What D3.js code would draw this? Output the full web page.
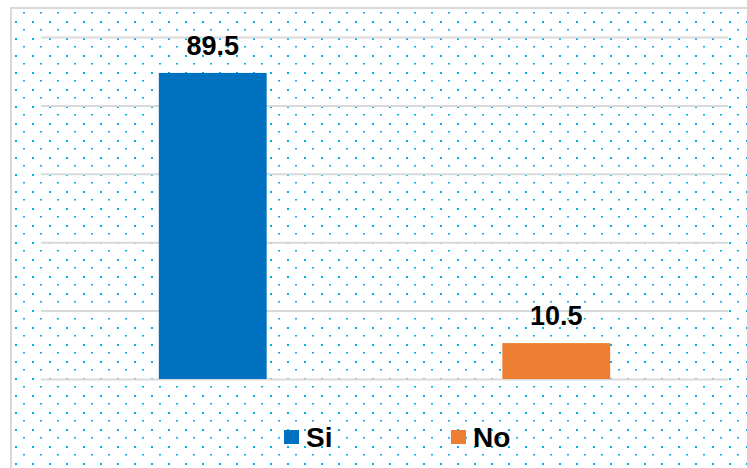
<!DOCTYPE html>
<html>
<head>
<meta charset="utf-8">
<script src="https://cdn.jsdelivr.net/npm/d3@7"></script>
<style>
  html, body { margin: 0; padding: 0; background: #fff; }
  svg { display: block; font-family: "Liberation Sans", Arial, sans-serif; }
</style>
</head>
<body>
<div id="chart"></div>
<script>
const categories = ['Si', 'No'];
const values = [89.5, 10.5];
const colors = ['#0070C0', '#ED7D31'];
const yTicks = [0, 20, 40, 60, 80, 100];

const width = 747, height = 468;

const svg = d3.select('#chart')
  .append('svg')
  .attr('width', width)
  .attr('height', height);

// dotted background
const defs = svg.append('defs');
const pat = defs.append('pattern')
  .attr('id', 'dots')
  .attr('patternUnits', 'userSpaceOnUse')
  .attr('x', 15).attr('y', 21)
  .attr('width', 17).attr('height', 17);
pat.append('rect').attr('x', 0).attr('y', 0).attr('width', 2).attr('height', 2).attr('fill', '#00B0F0');
pat.append('rect').attr('x', 8).attr('y', 8).attr('width', 2).attr('height', 1.5).attr('fill', '#00B0F0');

svg.append('rect')
  .attr('x', 11).attr('y', 8)
  .attr('width', width + 10).attr('height', height + 10)
  .attr('fill', 'url(#dots)')
  .attr('stroke', '#d9d9d9')
  .attr('stroke-width', 2);

const x = d3.scaleBand()
  .domain(categories)
  .range([41, 728])
  .paddingInner(0.686)
  .paddingOuter(0.343);

const y = d3.scaleLinear()
  .domain([0, 100])
  .range([379, 37]);

// gridlines
const grid = svg.append('g')
  .attr('transform', 'translate(41,0)')
  .call(d3.axisLeft(y).tickValues(yTicks).tickSize(-(728 - 41)).tickFormat(''));
grid.select('.domain').remove();
grid.selectAll('.tick line').attr('stroke', '#d9d9d9').attr('stroke-width', 2);

const data = categories.map((c, i) => ({ cat: c, value: values[i], color: colors[i] }));

svg.selectAll('rect.bar')
  .data(data)
  .enter()
  .append('rect')
  .attr('class', 'bar')
  .attr('x', d => x(d.cat))
  .attr('y', d => y(d.value))
  .attr('width', x.bandwidth())
  .attr('height', d => y(0) - y(d.value))
  .attr('fill', d => d.color);

svg.selectAll('text.label')
  .data(data)
  .enter()
  .append('text')
  .attr('class', 'label')
  .attr('x', d => x(d.cat) + x.bandwidth() / 2)
  .attr('y', d => y(d.value) - 18)
  .attr('text-anchor', 'middle')
  .attr('font-weight', 'bold')
  .attr('font-size', 27)
  .attr('fill', '#000')
  .text(d => d.value.toFixed(1));

// legend
const legendX = [284, 451];
const legend = svg.selectAll('g.legend')
  .data(data)
  .enter()
  .append('g')
  .attr('class', 'legend')
  .attr('transform', (d, i) => `translate(${legendX[i]},430)`);
legend.append('rect')
  .attr('width', 15).attr('height', 14)
  .attr('fill', d => d.color);
legend.append('text')
  .attr('x', 22).attr('y', 17)
  .attr('font-weight', 'bold')
  .attr('font-size', 28)
  .attr('fill', '#000')
  .text(d => d.cat);
</script>
</body>
</html>
